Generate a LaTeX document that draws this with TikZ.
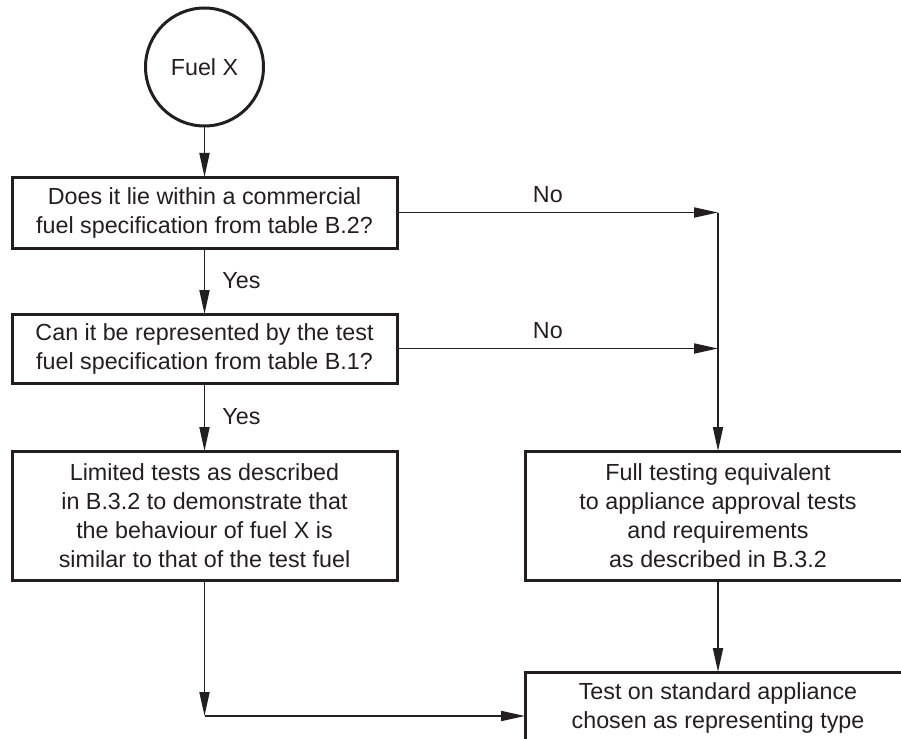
\documentclass[tikz,border=0pt]{standalone}
\usepackage{fontspec}
\setmainfont{Liberation Sans}
\usepackage{tikz}
\usetikzlibrary{arrows.meta,positioning}
\definecolor{ink}{HTML}{231F20}

\begin{document}
\begin{tikzpicture}[
    x=1pt, y=-1pt,
    every node/.style={text=ink, font=\fontsize{23.3}{29}\selectfont},
    box/.style={rectangle, draw=ink, line width=3pt, outer sep=0pt, inner sep=0pt,
        align=center, minimum width=385pt},
    fuelnode/.style={circle, draw=ink, line width=3pt, outer sep=0pt, minimum size=118pt},
    lbl/.style={inner sep=2pt},
    arrow/.style={-{Triangle[length=24pt, width=10pt]}, draw=ink, fill=ink, line width=1.8pt}
]
    \useasboundingbox (0,0) rectangle (901,738);
    \clip (0,0) rectangle (901,738);

    \node[box, minimum height=71pt] (q1) at (204.5,212.5)
        {Does it lie within a commercial\\fuel specification from table B.2?};
    \node[fuelnode, above=51pt of q1] (fuel) {Fuel X};
    \node[box, minimum height=69pt, below=66pt of q1] (q2)
        {Can it be represented by the test\\fuel specification from table B.1?};
    \node[box, minimum height=129pt, below=68pt of q2] (lim)
        {Limited tests as described\\in B.3.2 to demonstrate that\\the behaviour of fuel X is\\similar to that of the test fuel};
    \node[box, minimum width=386pt, minimum height=129pt, right=128pt of lim] (full)
        {Full testing equivalent\\to appliance approval tests\\and requirements\\as described in B.3.2};
    \node[box, minimum width=386pt, minimum height=71pt, below=92pt of full] (std)
        {Test on standard appliance\\chosen as representing type};

    \coordinate (j1) at (q1 -| full.north);
    \coordinate (j2) at (q2 -| full.north);
    \coordinate[below=136pt of lim] (j3);

    \draw[arrow] (fuel) -- (q1);
    \draw[arrow] (q1) -- node[lbl, right=15pt] {Yes} (q2);
    \draw[arrow] (q2) -- node[lbl, right=15pt] {Yes} (lim);
    \draw[arrow] (q1) -- node[lbl, above=7pt, pos=0.47] {No} (j1);
    \draw[arrow] (q2) -- node[lbl, above=7pt, pos=0.47] {No} (j2);
    \draw[arrow] (j1) -- (full);
    \draw[arrow] (full) -- (std);
    \draw[arrow] (lim) -- (j3);
    \draw[arrow] (j3) -- (j3 -| std.west);
\end{tikzpicture}
\end{document}
